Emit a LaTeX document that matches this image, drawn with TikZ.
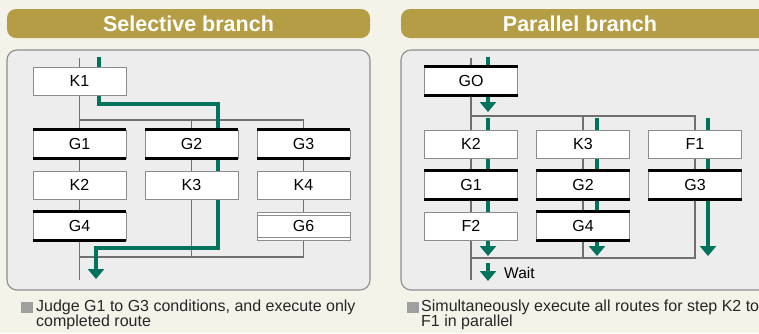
\documentclass[tikz,border=0pt]{standalone}
\usepackage{fontspec}
\setmainfont{Liberation Sans}
\usepackage{xcolor}
\usepackage{tikz}
\usetikzlibrary{arrows.meta}

\definecolor{bgcream}{HTML}{F4F3EA}
\definecolor{headgold}{HTML}{B59D45}
\definecolor{panelfill}{HTML}{EDEDED}
\definecolor{panelline}{HTML}{8C8C8C}
\definecolor{routegreen}{HTML}{00735C}
\definecolor{wiregray}{HTML}{707070}

\pgfdeclarelayer{panel}
\pgfdeclarelayer{wires}
\pgfsetlayers{panel,wires,main}

\tikzset{
  stepbox/.style={draw=panelline, line width=0.9pt, fill=white,
    minimum width=93pt, minimum height=28pt, inner sep=0pt,
    text=black, font=\fontsize{16}{16}\selectfont},
  wire/.style={draw=wiregray, line width=1.2pt},
  route/.style={draw=routegreen, line width=4pt},
  routearrow/.style={route, -{Triangle[width=16pt,length=10pt]}},
  bar/.style={line width=3pt, black},
  headbar/.style={fill=headgold, rounded corners=9pt},
  headtext/.style={text=white, font=\fontsize{21.5}{21.5}\selectfont\bfseries},
  board/.style={fill=panelfill, draw=panelline, line width=1.1pt, rounded corners=10pt},
  note/.style={anchor=north west, align=left, inner sep=0pt, text=black!85,
    font=\fontsize{16}{15.5}\selectfont},
}

\begin{document}
\begin{tikzpicture}[x=1pt, y=-1pt]
  \useasboundingbox (0,0) rectangle (759,333);

  % headers and panels
  \begin{pgfonlayer}{panel}
    \fill[bgcream] (0,0) rectangle (759,333);
    \draw[board] (7,50) rectangle (370,290);
    \draw[board] (401,50) rectangle (775,290);
  \end{pgfonlayer}
  \fill[headbar] (7,9) rectangle (370,38);
  \node[headtext] (sHead) at (188.5,23.5) {Selective branch};
  \fill[headbar] (401,9) rectangle (768,38);
  \node[headtext] (pHead) at (580,23.5) {Parallel branch};

  % selective branch
  \node[stepbox] (sK1) at (79.5,81) {K1};
  \node[stepbox] (sG1) at (79.5,144) {G1};
  \node[stepbox] (sG2) at (191.5,144) {G2};
  \node[stepbox] (sG3) at (303.5,144) {G3};
  \node[stepbox] (sK2) at (79.5,185) {K2};
  \node[stepbox] (sK3) at (191.5,185) {K3};
  \node[stepbox] (sK4) at (303.5,185) {K4};
  \node[stepbox] (sG4) at (79.5,226) {G4};
  \node[stepbox] (sG6) at (303.5,226) {G6};

  \coordinate (sIn) at (79.5,58);
  \coordinate (sSplit) at (79.5,120);
  \coordinate (sJoin) at (79.5,257);
  \coordinate (sOut) at (79.5,280);
  \coordinate (sRin) at (99,57);
  \coordinate (sRout) at (96,279);

  \begin{pgfonlayer}{wires}
    \draw[wire] (sIn) -- (sK1) -- (sG1) -- (sK2) -- (sG4) -- (sOut);
    \draw[wire] (sSplit) -| (sG3.north);
    \draw[wire] (sG2.north |- sSplit) -- (sG2) -- (sK3);
    \draw[wire] (sK3.south) -- (sK3.south |- sJoin);
    \draw[wire] (sG3) -- (sK4) -- (sG6);
    \draw[wire] (sG6.south) |- (sJoin);
    \draw[routearrow] (sRin) |- (218,104) -- (218,248) -| (sRout);
  \end{pgfonlayer}

  \foreach \n in {sG1,sG2,sG3,sG4}
    \draw[bar] (\n.north west) -- (\n.north east) (\n.south west) -- (\n.south east);
  \draw[draw=panelline, line width=0.9pt]
    ([yshift=-3.5pt]sG6.north west) -- ([yshift=-3.5pt]sG6.north east)
    ([yshift=3.5pt]sG6.south west) -- ([yshift=3.5pt]sG6.south east);

  \fill[gray!75] (21,302) rectangle (33,313);
  \node[note] (sNote) at (36,299.5) {Judge G1 to G3 conditions, and execute only\\completed route};

  % parallel branch
  \node[stepbox] (pGO) at (471,81) {GO};
  \node[stepbox] (pK2) at (471,144) {K2};
  \node[stepbox] (pK3) at (583,144) {K3};
  \node[stepbox] (pF1) at (695,144) {F1};
  \node[stepbox] (pG1) at (471,185) {G1};
  \node[stepbox] (pG2) at (583,185) {G2};
  \node[stepbox] (pG3) at (695,185) {G3};
  \node[stepbox] (pF2) at (471,226) {F2};
  \node[stepbox] (pG4) at (583,226) {G4};

  \coordinate (pIn) at (471,58);
  \coordinate (pSplit) at (471,116);
  \coordinate (pJoin) at (471,258);
  \coordinate (pOut) at (471,280);

  \begin{pgfonlayer}{wires}
    \draw[wire] (pIn) -- (pGO) -- (pK2) -- (pG1) -- (pF2) -- (pOut);
    \draw[wire] (pSplit) -| (pF1.north);
    \draw[wire] (pK3.north |- pSplit) -- (pK3) -- (pG2) -- (pG4);
    \draw[wire] (pG4.south) -- (pG4.south |- pJoin);
    \draw[wire] (pF1) -- (pG3);
    \draw[wire] (pG3.south) |- (pJoin);
    \draw[routearrow] (488,57) -- (488,112);
    \draw[routearrow] (488,118) -- (488,256);
    \draw[routearrow] (597,118) -- (597,256);
    \draw[routearrow] (708,118) -- (708,256);
    \draw[routearrow] (488,263) -- (488,281);
  \end{pgfonlayer}

  \node[anchor=west, inner sep=0pt, font=\fontsize{15.5}{15.5}\selectfont] (pWait) at (504,273) {Wait};

  \foreach \n in {pGO,pG1,pG2,pG3,pG4}
    \draw[bar] (\n.north west) -- (\n.north east) (\n.south west) -- (\n.south east);

  \fill[gray!75] (407,302) rectangle (419,313);
  \node[note] (pNote) at (421,299.5) {Simultaneously execute all routes for step K2 to\\F1 in parallel};
\end{tikzpicture}
\end{document}
